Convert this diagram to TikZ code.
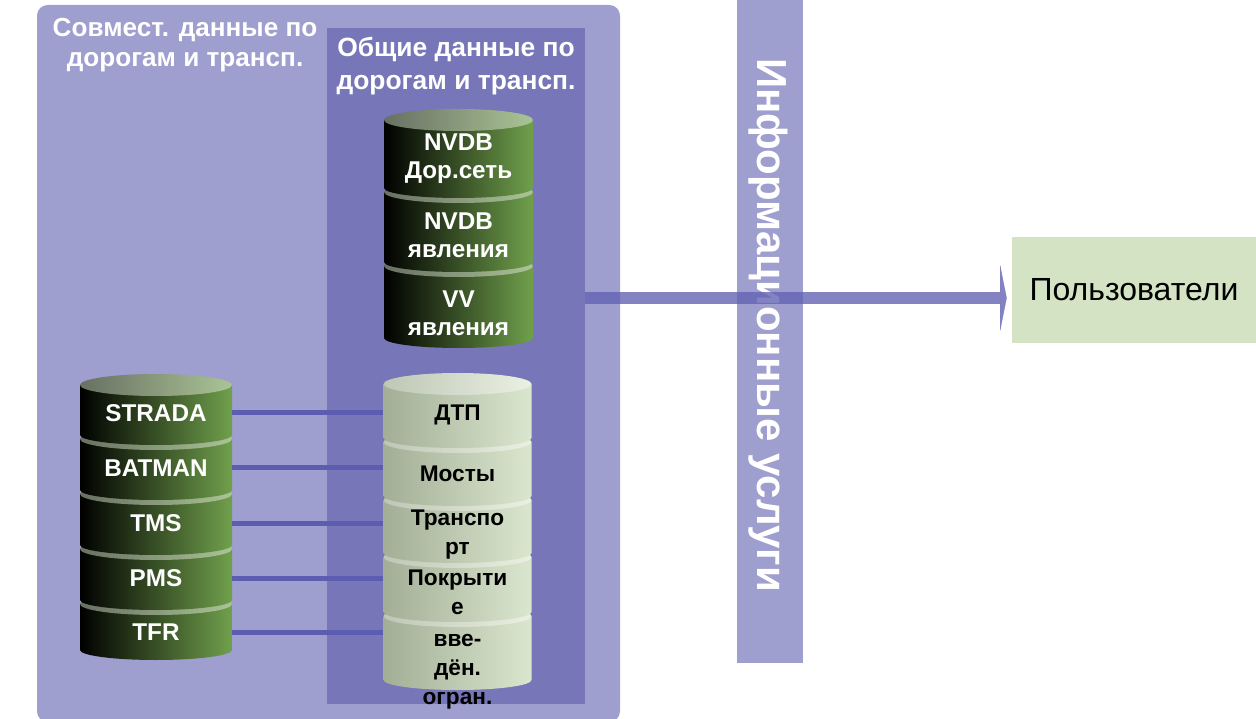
\documentclass[tikz,border=0pt]{standalone}
\usepackage{fontspec}
\setmainfont{Liberation Sans}
\usetikzlibrary{arrows.meta}

\definecolor{paleviolet}{RGB}{158,158,207}
\definecolor{deepviolet}{RGB}{118,118,184}
\definecolor{linkviolet}{RGB}{92,92,176}
\definecolor{flowviolet}{RGB}{100,100,180}
\definecolor{usergreen}{RGB}{212,227,196}
\definecolor{cylblack}{RGB}{0,0,0}
\definecolor{cylgreen}{RGB}{112,160,76}
\definecolor{capgrey}{RGB}{104,112,98}
\definecolor{capgreen}{RGB}{170,196,150}
\definecolor{palebodyl}{RGB}{163,174,150}
\definecolor{palebodyr}{RGB}{218,230,205}
\definecolor{palecapl}{RGB}{190,198,182}
\definecolor{palecapr}{RGB}{234,241,226}

% one slice of a cylinder: x centre, top y, bottom y, half width, kind
\newcommand{\cylseg}[5]{%
  \path[#5body] (#1-#4,#2) -- (#1-#4,#3)
    arc[start angle=180,end angle=360,x radius=#4,y radius=10] -- (#1+#4,#2) -- cycle;
  \path[#5top] (#1,#2) ellipse[x radius=#4,y radius=11];
}

\begin{document}
\begin{tikzpicture}[x=0.75pt,y=0.75pt,
    darkbody/.style={left color=cylblack,right color=cylgreen},
    darktop/.style={left color=capgrey,right color=capgreen},
    lightbody/.style={left color=palebodyl,right color=palebodyr},
    lighttop/.style={left color=palecapl,right color=palecapr},
    panel/.style={inner sep=0pt,outer sep=0pt},
    heading/.style={text=white,align=center,inner sep=0pt},
    darklbl/.style={text=white,font=\bfseries\fontsize{18.2}{21}\selectfont,align=center,inner sep=0pt,minimum width=114pt},
    lightlbl/.style={text=black,font=\bfseries\fontsize{17}{21.75}\selectfont,align=center,inner sep=0pt,minimum width=111pt},
    link/.style={draw=linkviolet,line width=3.75pt},
    flow/.style={draw=flowviolet,opacity=0.8,line width=9pt,
      -{Triangle[width=50pt,length=5pt,line width=0.1pt,fill=flowviolet]}}
  ]
  \useasboundingbox (0,0) rectangle (1256,718);

  \node[panel,fill=paleviolet,rounded corners=8pt,minimum width=437.25pt,minimum height=537.75pt] (outer) at (328.5,354.5) {};
  \node[panel,fill=deepviolet,minimum width=193.5pt,minimum height=507pt] (inner) at (456,352) {};
  \node[panel,fill=paleviolet,minimum width=49.5pt,minimum height=497.25pt] (bar) at (770,386.5) {};
  \node[panel,fill=usergreen,minimum width=183pt,minimum height=79.5pt,font=\fontsize{24}{28}\selectfont] (users) at (1134,428) {Пользователи};

  \node[heading,font=\bfseries\fontsize{19.6}{22}\selectfont] (shared) at (185,673) {Совмест. данные по\\дорогам и трансп.};
  \node[heading,font=\bfseries\fontsize{19.8}{24.75}\selectfont] (common) at (456,652) {Общие данные по\\дорогам и трансп.};

  % source systems
  \foreach \t/\b in {114/68,169/118,224/173,279/228,333/283}
    {\cylseg{156}{\t}{\b}{76}{dark}}
  % shared themes
  \foreach \t/\b in {102/38,161/106,218/165,276/222,334/280}
    {\cylseg{457.5}{\t}{\b}{74}{light}}
  % common road data
  \foreach \t/\b in {452/380,526/456,598/530}
    {\cylseg{458.5}{\t}{\b}{74.5}{dark}}

  \node[darklbl] (strada) at (156,305) {STRADA};
  \node[darklbl] (batman) at (156,250) {BATMAN};
  \node[darklbl] (tms) at (156,195) {TMS};
  \node[darklbl] (pms) at (156,140) {PMS};
  \node[darklbl] (tfr) at (156,86) {TFR};

  \node[lightlbl] (accidents) at (457.5,303) {ДТП};
  \node[lightlbl] (bridges) at (457.5,244) {Мосты};
  \node[lightlbl] (transport) at (457.5,183) {Транспо\\рт};
  \node[lightlbl] (pavement) at (457.5,126) {Покрыти\\е};
  \node[lightlbl] (limits) at (457.5,46) {вве-\\дён.\\огран.};

  \node[darklbl,minimum width=111pt] (network) at (458.5,559) {NVDB\\Дор.сеть};
  \node[darklbl,minimum width=111pt] (features) at (458.5,483) {NVDB\\явления};
  \node[darklbl,minimum width=111pt] (vvfeatures) at (458.5,405) {VV\\явления};

  \node[rotate=-90,text=white,font=\bfseries\fontsize{31.5}{36}\selectfont] (services) at (768,393) {Информационные услуги};

  \foreach \a/\b in {strada/accidents,batman/bridges,tms/transport,pms/pavement,tfr/limits}
    \draw[link] (\a.east) -- (\a.east -| \b.west);

  \coordinate (arr) at (0,420);
  \draw[flow,shorten >=4pt] (inner.east |- arr) -- (users.west |- arr);
\end{tikzpicture}
\end{document}
